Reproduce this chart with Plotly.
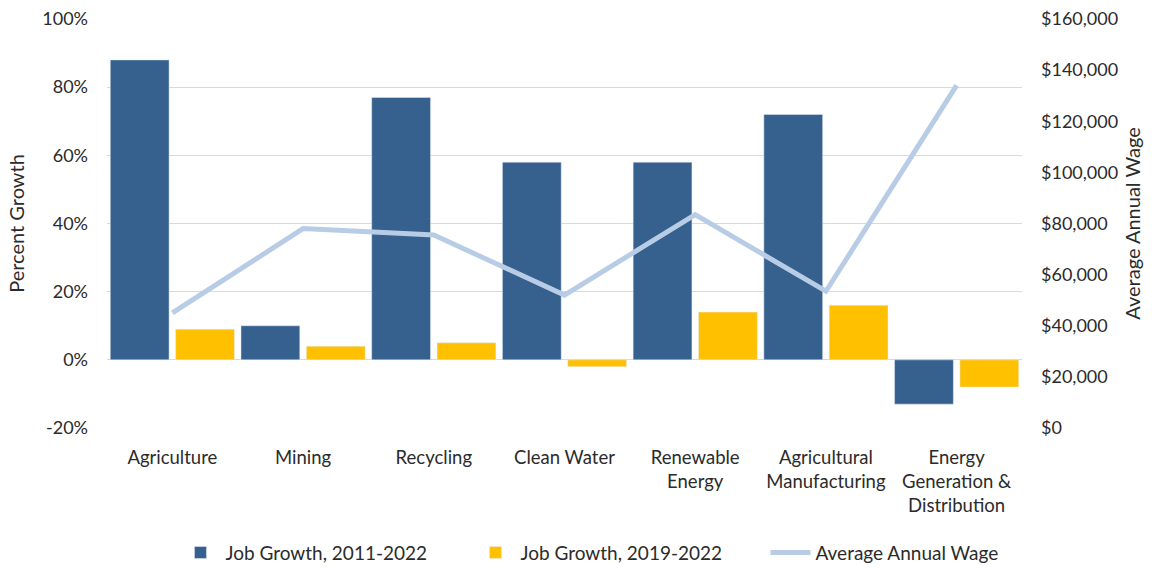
import plotly.graph_objects as go

categories = ['Agriculture', 'Mining', 'Recycling', 'Clean Water',
              'Renewable<br>Energy', 'Agricultural<br>Manufacturing',
              'Energy<br>Generation &<br>Distribution']
growth_2011_2022 = [0.88, 0.10, 0.77, 0.58, 0.58, 0.72, -0.13]
growth_2019_2022 = [0.09, 0.04, 0.05, -0.02, 0.14, 0.16, -0.08]
avg_wage = [45000, 78000, 75500, 52000, 83500, 53500, 134000]

pct_ticks = [-0.2, 0.0, 0.2, 0.4, 0.6, 0.8, 1.0]
pct_labels = ['-20%', '0%', '20%', '40%', '60%', '80%', '100%']

font_family = 'Lato, Liberation Sans, sans-serif'
text_col = '#2b2b2b'

fig = go.Figure()
fig.add_trace(go.Bar(x=categories, y=growth_2011_2022, name='Job Growth, 2011-2022',
                     marker_color='#36618F'))
fig.add_trace(go.Bar(x=categories, y=growth_2019_2022, name='Job Growth, 2019-2022',
                     marker_color='#FFC000'))
fig.add_trace(go.Scatter(x=categories, y=avg_wage, name='Average Annual Wage',
                         mode='lines', line=dict(color='#B8CCE6', width=5),
                         yaxis='y2'))

fig.update_layout(
    width=1166, height=568,
    margin=dict(l=107, r=144, t=19, b=140, autoexpand=False),
    plot_bgcolor='white', paper_bgcolor='white',
    font=dict(family=font_family, size=18, color=text_col),
    barmode='group', bargap=0.0, bargroupgap=0.1,
    xaxis=dict(showline=False, ticks='', tickfont=dict(size=18.5),
               showgrid=False, automargin=False, ticklabelstandoff=16),
    yaxis=dict(range=[-0.2, 1.0], tickvals=pct_ticks, ticktext=pct_labels,
               gridcolor='#D9D9D9', gridwidth=1, zeroline=True,
               zerolinecolor='#D9D9D9', zerolinewidth=1, automargin=False,
               ticklabelstandoff=18,
               title=dict(text='Percent Growth', font=dict(size=20), standoff=12),
               ticks='', tickfont=dict(size=18)),
    yaxis2=dict(range=[0, 160000], dtick=20000, tickprefix='$', tickformat=',.0f',
                overlaying='y', side='right', showgrid=False, zeroline=False,
                automargin=False, ticklabelstandoff=18,
                title=dict(text='Average Annual Wage', font=dict(size=20), standoff=8),
                ticks='', tickfont=dict(size=18)),
    legend=dict(orientation='h', xref='container', yref='container',
                x=0.53, xanchor='center', y=0.027, yanchor='middle',
                font=dict(size=19), itemwidth=40, traceorder='normal',
                entrywidth=240),
)

# drop the default page margin so the figure sits at the window's corner
fig.write_html("out.html", config={'displayModeBar': False},
               post_script="document.body.style.margin='0';")
